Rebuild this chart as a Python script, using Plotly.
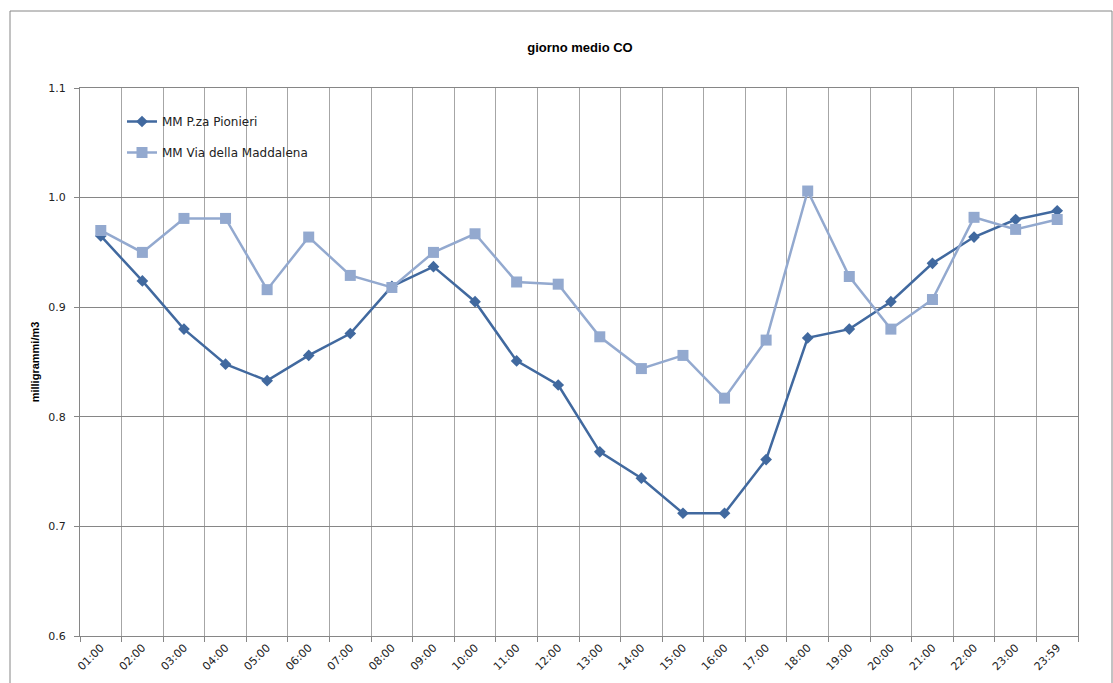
import plotly.graph_objects as go

categories = ["01:00", "02:00", "03:00", "04:00", "05:00", "06:00", "07:00", "08:00",
              "09:00", "10:00", "11:00", "12:00", "13:00", "14:00", "15:00", "16:00",
              "17:00", "18:00", "19:00", "20:00", "21:00", "22:00", "23:00", "23:59"]

pionieri = [0.965, 0.924, 0.880, 0.848, 0.833, 0.856, 0.876, 0.919,
            0.937, 0.905, 0.851, 0.829, 0.768, 0.744, 0.712, 0.712,
            0.761, 0.872, 0.880, 0.905, 0.940, 0.964, 0.980, 0.988]

maddalena = [0.970, 0.950, 0.981, 0.981, 0.916, 0.964, 0.929, 0.918,
             0.950, 0.967, 0.923, 0.921, 0.873, 0.844, 0.856, 0.817,
             0.870, 1.006, 0.928, 0.880, 0.907, 0.982, 0.971, 0.980]

y_ticks = [0.6, 0.7, 0.8, 0.9, 1.0, 1.1]
y_labels = ["0.6", "0.7", "0.8", "0.9", "1.0", "1.1"]

DARK = "#41699F"
LIGHT = "#93A9CF"
FONT = "Liberation Sans"
TFONT = "DejaVu Sans"

fig = go.Figure()
fig.add_trace(go.Scatter(
    x=categories, y=pionieri, name="MM P.za Pionieri", mode="lines+markers",
    line=dict(color=DARK, width=2.5),
    marker=dict(symbol="diamond", size=9, color=DARK),
    legendgroup="a"))
fig.add_trace(go.Scatter(
    x=categories, y=maddalena, name="MM Via della Maddalena", mode="lines+markers",
    line=dict(color=LIGHT, width=2.5),
    marker=dict(symbol="square", size=11, color=LIGHT),
    legendgroup="b"))

L, R, T, B = 80, 35, 88, 47
W, H = 1113, 683
pw, ph = W - L - R, H - T - B

def px_to_paper_x(px):
    return (px - L) / pw

def px_to_paper_y(py):
    return (H - B - py) / ph

fig.update_layout(
    width=W, height=H,
    margin=dict(l=L, r=R, t=T, b=B),
    paper_bgcolor="white", plot_bgcolor="white",
    font=dict(family=TFONT, size=11, color="#222"),
    title=dict(text="<b>giorno medio CO</b>", x=(580) / W, xanchor="center",
               y=1 - 47 / H, yanchor="middle", font=dict(size=13, family=FONT, color="#000")),
    showlegend=True,
    legend=dict(x=px_to_paper_x(122), y=px_to_paper_y(107), xanchor="left", yanchor="top",
                bgcolor="rgba(255,255,255,0)", font=dict(size=12, family=TFONT, color="#222"),
                tracegroupgap=12, itemwidth=30),
    xaxis=dict(type="category", tickson="boundaries", tickangle=-45, automargin=False,
               showgrid=True, gridcolor="#A6A6A6", gridwidth=1,
               ticks="outside", ticklen=5, tickcolor="#868686",
               showline=True, linecolor="#868686", linewidth=1, mirror=True,
               tickfont=dict(size=11, family=TFONT, color="#222"), range=[-0.5, 23.5]),
    yaxis=dict(range=[0.6, 1.1], tickvals=y_ticks, ticktext=y_labels, automargin=False,
               showgrid=True, gridcolor="#868686", gridwidth=1,
               ticks="outside", ticklen=5, tickcolor="#868686",
               showline=True, linecolor="#868686", linewidth=1, mirror=True,
               ticklabelstandoff=6,
               tickfont=dict(size=11, family=TFONT, color="#222"),
               title=dict(text="<b>milligrammi/m3</b>", standoff=6,
                          font=dict(size=11, family=FONT, color="#000"))),
)

fig.add_shape(type="rect", xref="paper", yref="paper",
              x0=px_to_paper_x(10), x1=px_to_paper_x(1112),
              y0=px_to_paper_y(700), y1=px_to_paper_y(11),
              line=dict(color="#868686", width=1), fillcolor="rgba(0,0,0,0)", layer="below")

fig.write_html("out.html")
